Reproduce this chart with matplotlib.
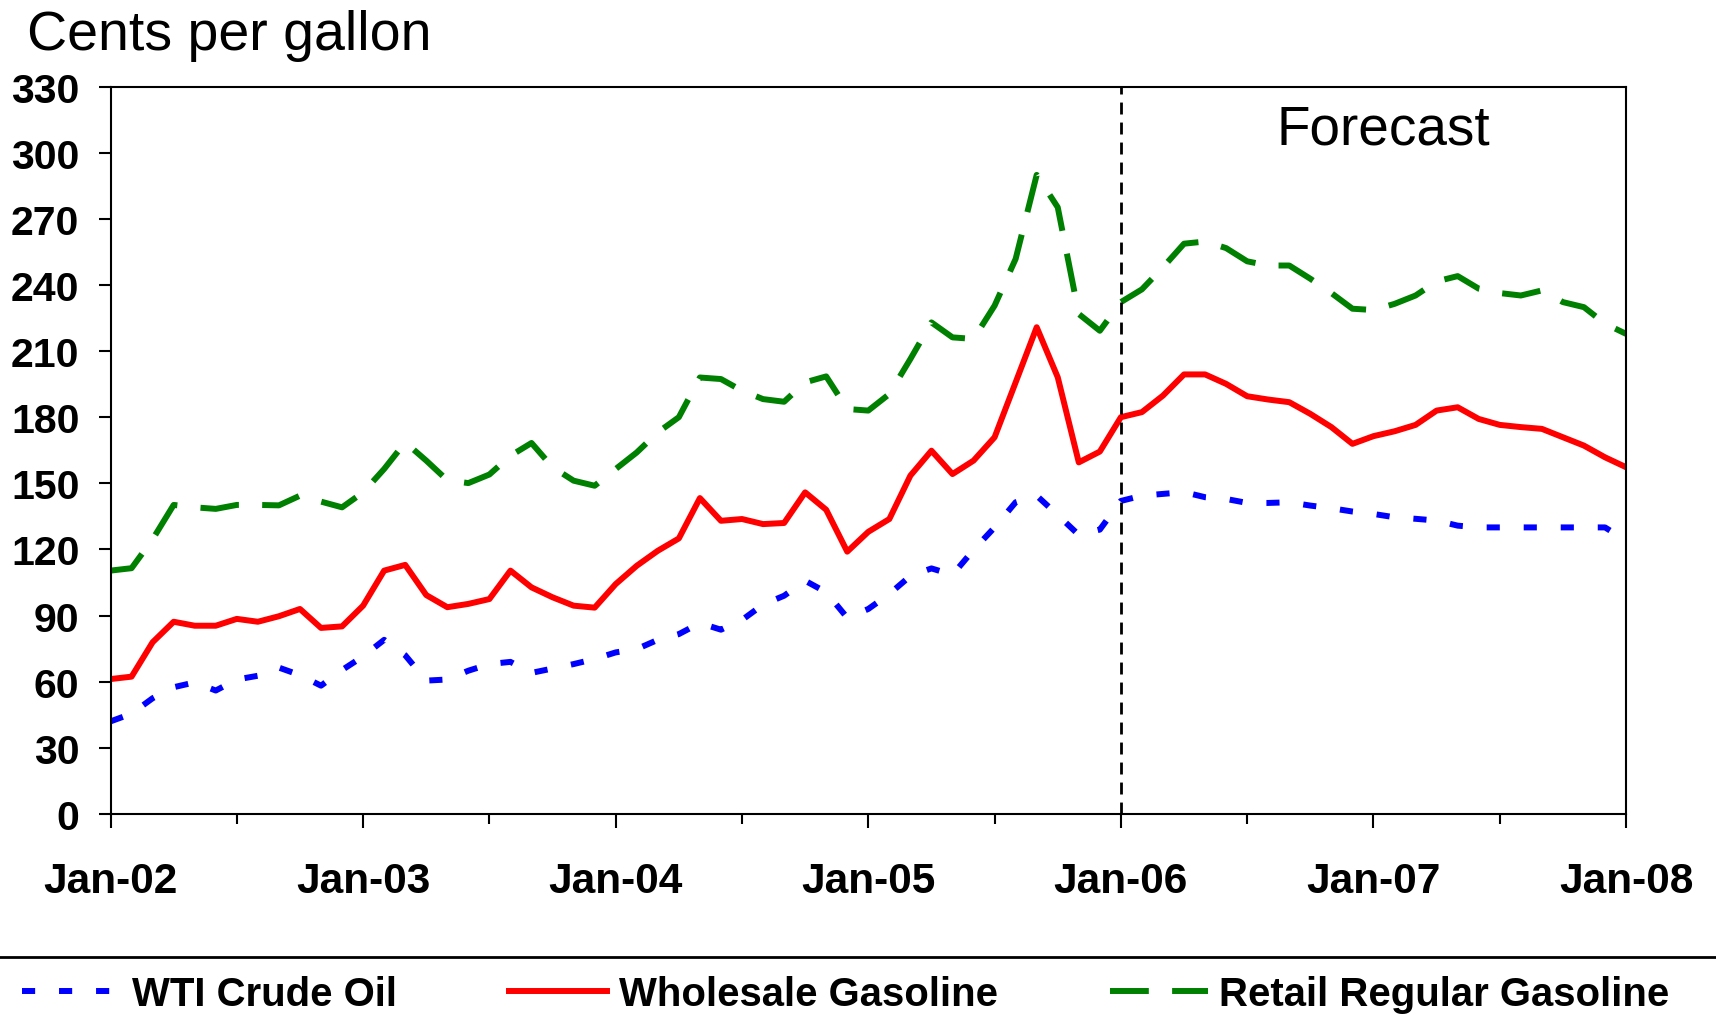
import matplotlib
matplotlib.use('Agg')
import matplotlib.pyplot as plt
from matplotlib.lines import Line2D
import numpy as np

plt.rcParams['font.family'] = ['Liberation Sans', 'DejaVu Sans']

year_labels = ['Jan-02', 'Jan-03', 'Jan-04', 'Jan-05', 'Jan-06', 'Jan-07', 'Jan-08']

# Monthly values, Jan-2002 .. Jan-2008 (cents per gallon)
wti = [42, 45.5, 52.5, 57.5, 59.7, 56, 61, 62.7, 66.4, 63, 58.2, 65.3,
       71.5, 79, 72, 60.5, 61, 65, 68, 69, 64, 66, 68, 70.3,
       73.3, 74.8, 79, 81.6, 86.6, 83.6, 88, 95, 99, 105.8, 100.6, 89,
       93, 99.8, 108, 111.4, 108.5, 119.8, 130, 141.4, 144.4, 135.6, 126.6, 129,
       142, 144.4, 145.2, 146, 143.7, 142.9, 141.1, 141.1, 141.4, 139.9, 138.7, 137.2,
       136.1, 134.6, 133.9, 133.1, 130.8, 130, 130, 130, 130, 130, 130, 130,
       124]

wholesale = [61.2, 62.3, 77.9, 87.2, 85.4, 85.4, 88.5, 87.2, 89.7, 93, 84.4, 85.1,
             94.5, 110.4, 113, 99.3, 93.8, 95.3, 97.5, 110.4, 102.8, 98.3, 94.5, 93.6,
             104.3, 112.6, 119.4, 125, 143.3, 133, 133.8, 131.5, 132, 145.9, 138, 119,
             128, 133.8, 153.5, 164.8, 154.2, 160.3, 170.9, 195.8, 220.8, 198.1, 159.5, 164.4,
             180, 182.3, 189.8, 199.4, 199.4, 195.1, 189.5, 188, 186.8, 181.5, 175.5, 167.9,
             171.4, 173.6, 176.5, 183, 184.5, 179.2, 176.5, 175.5, 174.7, 170.9, 167.1, 161.8,
             157.3]

retail = [110.4, 111.5, 124.6, 140.2, 139.1, 138.4, 140.2, 140.2, 140, 144.4, 141.7, 139.1,
          145.9, 156.5, 168.6, 160.3, 151.4, 150.1, 154, 162.5, 168.3, 157.3, 151.2, 148.9,
          156.5, 164, 173.1, 180, 198, 197.3, 192, 188.2, 187, 195.8, 198.5, 183.7,
          183, 190.5, 206.4, 223, 216.2, 215.5, 230.6, 251.8, 289.9, 275.2, 226.8, 219.2,
          232.2, 238, 248, 258.7, 259.7, 256.7, 250.7, 248.8, 248.8, 242.8, 236.3, 229.2,
          228.6, 231.4, 235.2, 241.6, 244, 238.3, 236.3, 235.2, 237.5, 232.2, 229.9, 222.4,
          217.8]

series_names = ['WTI Crude Oil', 'Wholesale Gasoline', 'Retail Regular Gasoline']
forecast_start = 48  # Jan-06

months = np.arange(len(wti))

fig = plt.figure(figsize=(17.16, 10.2), dpi=100)
ax = fig.add_axes([0.0644, 0.2010, 0.8832, 0.7132])

l1, = ax.plot(months, wti, color='#0000FF', lw=4.3, dashes=(2.2, 4.0), label=series_names[0])
l2, = ax.plot(months, wholesale, color='#FF0000', lw=4.3, label=series_names[1])
l3, = ax.plot(months, retail, color='#008000', lw=4.3, dashes=(6.5, 3.9), label=series_names[2])
ax.axvline(forecast_start, color='black', lw=2, dashes=(4.3, 2.9))

ax.set_xlim(0, 72)
ax.set_ylim(0, 330)
ax.set_yticks(range(0, 331, 30))
ax.set_xticks(range(0, 73, 12))
ax.set_xticklabels(year_labels)
ax.set_xticks(range(6, 73, 12), minor=True)
ax.tick_params(axis='x', which='major', length=10, width=1.5, pad=24, labelsize=30.5)
ax.tick_params(axis='x', which='minor', length=7, width=1.5)
ax.tick_params(axis='y', length=9, width=1.5, pad=13.5, labelsize=29.5)
for lab in ax.get_xticklabels() + ax.get_yticklabels():
    lab.set_fontweight('bold')
for s in ax.spines.values():
    s.set_linewidth(1.5)

ax.text(60.45, 304.2, 'Forecast', ha='center', va='baseline', fontsize=39.5)
fig.text(0.0157, 0.9514, 'Cents per gallon', fontsize=40, va='baseline')

fig.add_artist(Line2D([0, 1], [0.061, 0.061], transform=fig.transFigure, color='black', lw=2))
fig.legend(handles=[l1, l2, l3], loc='center left', bbox_to_anchor=(0.0128, 0.0248), ncol=3,
           frameon=False, prop={'weight': 'bold', 'size': 28.9}, handlelength=2.45,
           handletextpad=0.28, columnspacing=2.8, borderpad=0, borderaxespad=0)

fig.savefig('out.png', dpi=100)
